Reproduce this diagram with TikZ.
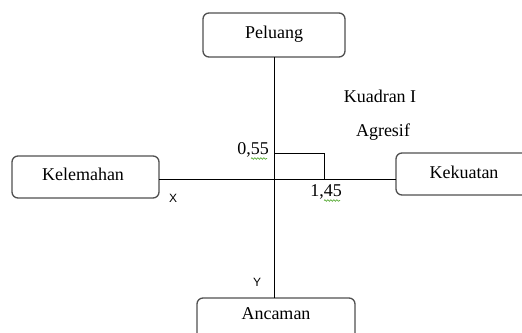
\documentclass[tikz,border=0pt]{standalone}
\usepackage{fontspec}
\setmainfont{Liberation Serif}
\newfontfamily\axisfont{Liberation Sans}
\usetikzlibrary{decorations.pathmorphing}
\definecolor{boxgray}{HTML}{505050}
\definecolor{squiggle}{HTML}{5FAF3F}
\tikzset{
  swotbox/.style={draw=boxgray, line width=1.3pt, rounded corners=6pt, fill=white},
  lbl/.style={font=\fontsize{18}{21}\selectfont, inner sep=0pt},
  axlbl/.style={font=\axisfont\fontsize{12}{14}\selectfont, inner sep=0pt},
  axis/.style={draw=black, line width=1pt},
  spell/.style={draw=squiggle, line width=0.7pt, decorate, decoration={snake, amplitude=0.8pt, segment length=3pt}}
}
\begin{document}
\begin{tikzpicture}[x=1pt,y=-1pt]
\useasboundingbox (0,0) rectangle (522,332);
\clip (0,0) rectangle (522,332);
% boxes
\draw[swotbox] (203,13) rectangle (345,57);
\node[lbl] (peluang) at (274,34) {Peluang};
\coordinate (pB) at (274,57);
\draw[swotbox] (197,298) rectangle (355,345);
\node[lbl] (ancaman) at (276,314) {Ancaman};
\coordinate (aT) at (274,298);
\draw[swotbox] (12,156) rectangle (159,198);
\node[lbl] (kelemahan) at (83,174) {Kelemahan};
\coordinate (kR) at (159,179);
\draw[swotbox] (396,153) rectangle (540,195);
\node[lbl] (kekuatan) at (464,172) {Kekuatan};
\coordinate (kL) at (396,179);
% axes
\draw[axis] (pB) -- (aT);
\draw[axis] (kR) -- (kL);
% marker
\coordinate (m) at (324,153);
\draw[axis] (274,153) -- (m) -- (324,179);
% labels
\node[lbl] (v055) at (253,150) {0,55};
\draw[spell] (251,158.5) -- (267,158.5);
\node[lbl] (v145) at (326,192) {1,45};
\draw[spell] (324,200.5) -- (340,200.5);
\node[axlbl] (xl) at (173,198) {X};
\node[axlbl] (yl) at (257,282) {Y};
\node[lbl] (kuadran) at (380,96) {Kuadran I};
\node[lbl] (agresif) at (383,132) {Agresif};
\end{tikzpicture}
\end{document}
